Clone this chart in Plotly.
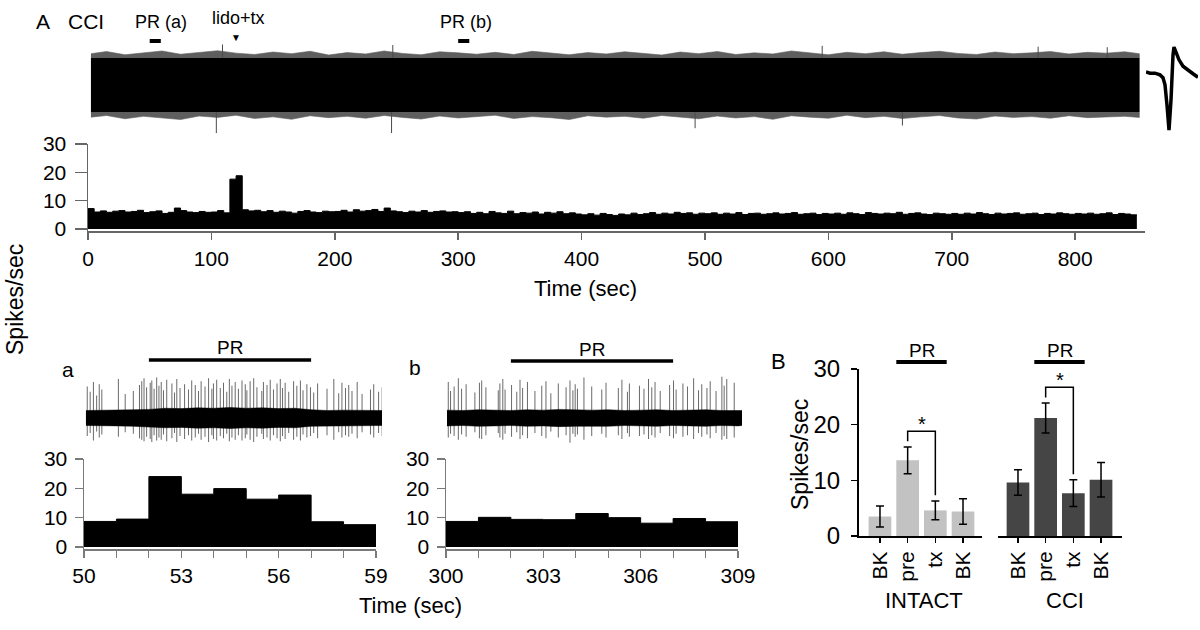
import plotly.graph_objects as go

W, H = 1200, 630
FONT = "Liberation Sans, Arial, Helvetica, sans-serif"


def fx(px):
    return px / W


def fy(py):
    return 1 - py / H


# ======================= DATA =======================
# --- Panel A (top): whole raw recording, normalised amplitude (noise band half-width = 1)
raw_t = [2.4] + list(range(15, 841, 15)) + [852]
raw_fringe_top = [1.16, 1.24, 1.12, 1.19, 1.26, 1.14, 1.21, 1.27, 1.18, 1.13,
                  1.22, 1.16, 1.25, 1.11, 1.20, 1.15, 1.26, 1.17, 1.12, 1.23,
                  1.19, 1.14, 1.21, 1.13, 1.25, 1.18, 1.12, 1.20, 1.15, 1.23,
                  1.17, 1.11, 1.22, 1.16, 1.24, 1.13, 1.19, 1.15, 1.26, 1.18,
                  1.12, 1.21, 1.16, 1.23, 1.14, 1.20, 1.25, 1.17, 1.13, 1.22,
                  1.16, 1.19, 1.24, 1.15, 1.21, 1.18, 1.23, 1.16]
raw_fringe_bot = [-1.19, -1.13, -1.25, -1.16, -1.22, -1.28, -1.15, -1.20, -1.12, -1.24,
                  -1.18, -1.27, -1.14, -1.21, -1.16, -1.23, -1.13, -1.20, -1.26, -1.15,
                  -1.22, -1.18, -1.12, -1.24, -1.17, -1.21, -1.28, -1.14, -1.19, -1.16,
                  -1.23, -1.13, -1.20, -1.25, -1.15, -1.22, -1.17, -1.27, -1.14, -1.19,
                  -1.23, -1.12, -1.21, -1.16, -1.24, -1.18, -1.13, -1.22, -1.26, -1.15,
                  -1.20, -1.17, -1.23, -1.14, -1.21, -1.18, -1.16, -1.20]
raw_core_top = 1.0
raw_core_bot = -1.0
raw_big_t = [104, 109, 246, 247, 492, 595, 660, 770, 826]
raw_big_v = [-1.78, 1.50, -1.78, 1.48, -1.60, 1.45, -1.50, 1.42, 1.40]

# averaged spike waveform (ms, uV)
wave_t = [0, 0.2, 0.45, 0.7, 0.85, 0.95, 1.05, 1.15, 1.25, 1.3, 1.35, 1.4, 1.5, 1.65, 1.85, 2.1, 2.35, 2.6]
wave_v = [0, -2, -2, -5, -10, -22, -57, -100, -48, -5, 29, 43, 34, 21, 10, 3, -3, -9]

# firing rate (5-s bins, spikes/sec)
rate_bin = 5
rate_start = list(range(0, 850, rate_bin))
rate_values = [
    7.2, 6.0, 6.4, 5.9, 6.3, 6.5, 6.0, 6.2, 6.6, 5.8, 6.1, 6.4, 5.5, 5.9, 7.4, 6.5, 6.0, 5.8, 6.2, 5.9,
    6.0, 6.5, 5.7, 17.6, 18.8, 6.8, 6.4, 6.6, 6.1, 6.5, 5.9, 6.3, 6.0, 5.6, 6.2, 6.5, 6.0, 5.8, 6.3, 6.1,
    6.2, 6.6, 6.0, 6.8, 6.3, 6.5, 6.9, 6.2, 7.4, 6.4, 6.1, 5.8, 6.3, 6.0, 6.5, 5.9, 6.2, 6.4, 6.0, 6.1,
    5.8, 6.1, 5.5, 5.9, 5.4, 6.2, 5.7, 5.5, 6.3, 5.4, 5.8, 5.6, 6.0, 5.3, 5.9, 5.6, 6.1, 5.4, 5.7, 5.3,
    5.0, 5.4, 4.9, 5.5, 5.1, 4.8, 5.3, 5.0, 5.6, 5.1, 5.4, 5.8, 5.2, 5.6, 5.3, 5.9, 5.5, 5.7, 5.2, 5.6,
    5.4, 5.7, 5.2, 5.6, 5.3, 5.8, 5.1, 5.5, 5.6, 5.2, 5.4, 5.7, 5.3, 5.5, 5.8, 5.2, 5.4, 5.6, 5.1, 5.5,
    5.3, 5.6, 5.2, 5.7, 5.4, 5.1, 5.8, 5.5, 5.3, 5.6, 5.4, 5.9, 5.2, 5.5, 5.7, 5.3, 5.1, 5.6, 5.4, 5.2,
    5.5, 5.2, 5.6, 5.3, 5.8, 5.4, 5.1, 5.6, 5.3, 5.5, 5.7, 5.2, 5.4, 5.6, 5.1, 5.5, 5.3, 5.7, 5.4, 5.2,
    5.5, 5.3, 5.6, 5.2, 5.4, 5.7, 5.1, 5.5, 5.3, 5.0]
rate_ticks = [0, 100, 200, 300, 400, 500, 600, 700, 800]
lido_time = 120
window_a = [50, 59]
window_b = [300, 309]

# --- Panel a: 50-59 s
pr_a = [52, 57]
band_a_t = [50.06, 50.5, 51.0, 51.5, 52.0, 52.5, 53.0, 53.5, 54.0, 54.5,
            55.0, 55.5, 56.0, 56.5, 57.0, 57.5, 58.0, 58.5, 59.0, 59.185]
band_a_half = [1.0, 1.0, 1.05, 1.1, 1.15, 1.3, 1.25, 1.35, 1.3, 1.4,
               1.3, 1.35, 1.25, 1.3, 1.1, 1.0, 1.05, 1.0, 1.0, 1.0]
spike_a_t = [50.10, 50.19, 50.29, 50.39, 50.47, 50.55, 51.06, 51.27, 51.52, 51.71,
             51.78, 51.85, 51.93, 52.04, 52.09, 52.16, 52.24, 52.31, 52.38, 52.45,
             52.55, 52.71, 52.79, 52.86, 52.96, 53.10, 53.22, 53.32, 53.43, 53.53,
             53.61, 53.73, 53.84, 53.94, 53.99, 54.09, 54.20, 54.30, 54.40, 54.48,
             54.56, 54.66, 54.76, 54.87, 54.97, 55.02, 55.12, 55.23, 55.33, 55.48,
             55.53, 55.64, 55.74, 55.84, 55.95, 56.05, 56.12, 56.20, 56.31, 56.46,
             56.56, 56.67, 56.75, 56.87, 56.98, 57.08, 57.20, 57.49, 57.70, 57.85,
             57.95, 58.06, 58.16, 58.26, 58.42, 58.57, 58.83, 58.93, 59.08, 59.19]
spike_a_up = [4.2, 3.5, 4.8, 3.0, 4.5, 3.8, 5.2, 3.2, 3.6, 4.4,
              4.9, 5.3, 4.1, 4.7, 5.0, 3.9, 5.4, 4.3, 4.8, 3.7,
              5.1, 4.6, 3.4, 5.2, 4.0, 4.5, 3.8, 5.0, 4.4, 3.6,
              4.9, 4.2, 5.3, 3.9, 4.6, 5.1, 4.0, 4.7, 3.5, 5.2,
              4.3, 4.8, 3.9, 5.0, 4.5, 3.7, 4.9, 5.3, 4.1, 3.6,
              4.8, 4.4, 5.1, 3.8, 4.6, 5.2, 4.0, 4.7, 3.5, 4.9,
              4.3, 5.0, 3.7, 4.5, 4.1, 3.4, 4.6, 3.9, 5.2, 3.3,
              4.7, 4.0, 4.4, 3.6, 4.8, 3.2, 3.8, 4.5, 3.5, 4.1]
spike_a_down = [-2.4, -2.0, -3.0, -1.8, -2.6, -2.2, -2.5, -1.9, -2.1, -2.7,
                -2.9, -3.1, -2.5, -2.8, -3.2, -2.3, -3.0, -2.6, -2.9, -2.2,
                -3.1, -2.7, -2.0, -3.2, -2.4, -2.8, -2.3, -3.0, -2.6, -2.1,
                -2.9, -2.5, -3.2, -2.3, -2.8, -3.0, -2.4, -2.7, -2.1, -3.1,
                -2.6, -2.9, -2.3, -3.0, -2.7, -2.2, -2.9, -3.2, -2.5, -2.1,
                -2.8, -2.6, -3.0, -2.3, -2.7, -3.1, -2.4, -2.8, -2.0, -2.9,
                -2.5, -3.0, -2.2, -2.6, -2.4, -2.0, -2.7, -2.3, -2.9, -1.9,
                -2.6, -2.3, -2.5, -2.1, -2.7, -1.9, -2.2, -2.6, -2.0, -2.4]
hist_a_start = [50, 51, 52, 53, 54, 55, 56, 57, 58]
hist_a = [8.7, 9.5, 24.0, 18.0, 19.9, 16.3, 17.7, 8.6, 7.6]
ticks_a = [50, 51, 52, 53, 54, 55, 56, 57, 58, 59]
labels_a = ["50", "", "", "53", "", "", "56", "", "", "59"]

# --- Panel b: 300-309 s
pr_b = [302, 307]
band_b_t = [300.03, 300.5, 301.0, 301.5, 302.0, 302.5, 303.0, 303.5, 304.0, 304.5,
            305.0, 305.5, 306.0, 306.5, 307.0, 307.5, 308.0, 308.5, 309.0, 309.12]
band_b_half = [1.05, 1.0, 1.1, 1.05, 1.0, 1.1, 1.05, 1.15, 1.1, 1.05,
               1.1, 1.0, 1.05, 1.1, 1.0, 1.05, 1.1, 1.0, 1.05, 1.0]
spike_b_t = [300.07, 300.14, 300.25, 300.38, 300.48, 300.62, 300.89, 301.03, 301.10, 301.23,
             301.61, 301.66, 301.75, 301.82, 302.02, 302.18, 302.28, 302.36, 302.51, 302.74,
             302.95, 303.08, 303.23, 303.46, 303.70, 303.82, 303.91, 303.98, 304.05, 304.25,
             304.49, 304.80, 304.93, 305.31, 305.42, 305.59, 305.65, 305.96, 306.10, 306.24,
             306.34, 306.44, 306.60, 306.89, 307.01, 307.09, 307.30, 307.44, 307.63, 307.78,
             307.88, 308.04, 308.14, 308.32, 308.50, 308.57, 308.65, 308.88]
spike_b_up = [4.8, 3.6, 4.2, 5.3, 3.9, 4.5, 3.4, 4.7, 5.0, 4.1,
              3.7, 4.6, 5.2, 3.8, 4.4, 3.5, 5.1, 4.0, 4.8, 3.6,
              4.3, 4.9, 3.3, 4.6, 4.1, 5.0, 3.7, 4.5, 3.9, 5.4,
              4.2, 3.8, 4.7, 4.0, 5.1, 3.5, 4.6, 4.3, 3.9, 5.2,
              4.1, 4.8, 3.6, 4.4, 5.0, 3.8, 4.6, 4.2, 5.3, 3.7,
              4.5, 4.0, 4.9, 3.6, 5.5, 4.3, 5.2, 4.7]
spike_b_down = [-2.6, -2.1, -2.4, -2.9, -2.2, -2.5, -1.9, -2.7, -2.8, -2.3,
                -2.0, -2.6, -2.9, -2.1, -2.5, -1.9, -2.8, -2.3, -2.7, -2.0,
                -2.4, -2.7, -1.8, -2.6, -2.3, -3.3, -2.1, -2.5, -2.2, -2.9,
                -2.4, -2.1, -2.6, -2.3, -2.8, -2.0, -2.5, -2.4, -2.2, -2.8,
                -2.3, -2.6, -2.0, -2.4, -2.7, -2.1, -2.5, -2.3, -2.8, -2.0,
                -2.5, -2.2, -2.7, -2.0, -2.9, -2.4, -2.8, -2.6]
hist_b_start = [300, 301, 302, 303, 304, 305, 306, 307, 308]
hist_b = [8.7, 10.1, 9.4, 9.3, 11.4, 10.0, 8.1, 9.7, 8.6]
ticks_b = [300, 301, 302, 303, 304, 305, 306, 307, 308, 309]
labels_b = ["300", "", "", "303", "", "", "306", "", "", "309"]

# --- Panel B: group means +/- SEM
conditions = ["BK", "pre", "tx", "BK"]
intact_mean = [3.5, 13.6, 4.6, 4.4]
intact_err = [1.9, 2.4, 1.7, 2.3]
cci_mean = [9.6, 21.2, 7.7, 10.1]
cci_err = [2.3, 2.7, 2.4, 3.1]

# ======================= FIGURE =======================
fig = go.Figure()
BLACK = "#000000"


def add(tr):
    fig.add_trace(tr)


def spikes_xy(ts, ups, downs):
    xs, ys = [], []
    for t, u, d in zip(ts, ups, downs):
        xs += [t, t, None]
        ys += [d, u, None]
    return xs, ys


# ---- top raw trace
add(go.Scatter(x=raw_t + raw_t[::-1], y=raw_fringe_top + raw_fringe_bot[::-1],
               fill="toself", fillcolor="#5e5e5e", mode="lines", line=dict(width=0.6, color="#5e5e5e"),
               xaxis="x", yaxis="y", hoverinfo="skip"))
bx, by = [], []
for t, v in zip(raw_big_t, raw_big_v):
    bx += [t, t, None]
    by += [0, v, None]
add(go.Scatter(x=bx, y=by, mode="lines", line=dict(color="#4a4a4a", width=1), xaxis="x", yaxis="y"))
add(go.Scatter(x=[raw_t[0], raw_t[-1], raw_t[-1], raw_t[0]],
               y=[raw_core_top, raw_core_top, raw_core_bot, raw_core_bot],
               fill="toself", fillcolor=BLACK, mode="lines", line=dict(width=0, color=BLACK),
               xaxis="x", yaxis="y"))

# ---- waveform
add(go.Scatter(x=wave_t, y=wave_v, mode="lines", line=dict(color=BLACK, width=3.5),
               xaxis="x3", yaxis="y3"))

# ---- rate histogram
rx = rate_start + [rate_start[-1] + rate_bin]
ry = rate_values + [rate_values[-1]]
add(go.Scatter(x=rx, y=ry, mode="lines", line=dict(shape="hv", color=BLACK, width=1),
               fill="tozeroy", fillcolor=BLACK, xaxis="x2", yaxis="y2"))

# ---- panel a raw + hist
sx, sy = spikes_xy(spike_a_t, spike_a_up, spike_a_down)
add(go.Scatter(x=sx, y=sy, mode="lines", line=dict(color="#6a6a6a", width=1), xaxis="x4", yaxis="y4"))
add(go.Scatter(x=band_a_t + band_a_t[::-1], y=band_a_half + [-h for h in band_a_half[::-1]],
               fill="toself", fillcolor=BLACK, mode="lines", line=dict(width=0.5, color=BLACK),
               xaxis="x4", yaxis="y4"))
add(go.Scatter(x=hist_a_start + [hist_a_start[-1] + 1], y=hist_a + [hist_a[-1]], mode="lines",
               line=dict(shape="hv", color=BLACK, width=1), fill="tozeroy", fillcolor=BLACK,
               xaxis="x5", yaxis="y5"))

# ---- panel b raw + hist
sx, sy = spikes_xy(spike_b_t, spike_b_up, spike_b_down)
add(go.Scatter(x=sx, y=sy, mode="lines", line=dict(color="#6a6a6a", width=1), xaxis="x6", yaxis="y6"))
add(go.Scatter(x=band_b_t + band_b_t[::-1], y=band_b_half + [-h for h in band_b_half[::-1]],
               fill="toself", fillcolor=BLACK, mode="lines", line=dict(width=0.5, color=BLACK),
               xaxis="x6", yaxis="y6"))
add(go.Scatter(x=hist_b_start + [hist_b_start[-1] + 1], y=hist_b + [hist_b[-1]], mode="lines",
               line=dict(shape="hv", color=BLACK, width=1), fill="tozeroy", fillcolor=BLACK,
               xaxis="x7", yaxis="y7"))

# ---- panel B bars
BAR_W = 0.82
pos = list(range(len(conditions)))
add(go.Bar(x=pos, y=intact_mean, width=BAR_W, marker=dict(color="#c2c2c2", line=dict(width=0)),
           error_y=dict(type="data", array=intact_err, color=BLACK, thickness=1.5, width=4),
           xaxis="x8", yaxis="y8"))
add(go.Bar(x=pos, y=cci_mean, width=BAR_W, marker=dict(color="#454545", line=dict(width=0)),
           error_y=dict(type="data", array=cci_err, color=BLACK, thickness=1.5, width=4),
           xaxis="x9", yaxis="y9"))

# ======================= LAYOUT =======================
hidden = dict(visible=False, showgrid=False, zeroline=False, fixedrange=True, automargin=False)


def dx(a, b):
    return [fx(a), fx(b)]


def dy(top, bot):
    return [fy(bot), fy(top)]


GRAY = "#666666"
lay = dict(
    template="none",
    width=W, height=H, margin=dict(l=0, r=0, t=0, b=0, pad=0, autoexpand=False),
    paper_bgcolor="white", plot_bgcolor="white", showlegend=False,
    font=dict(family=FONT, color=BLACK, size=20),
)
lay["xaxis"] = dict(hidden, domain=dx(88, 1145), range=[0, 856.6], anchor="y")
lay["yaxis"] = dict(hidden, domain=dy(30, 135), range=[-1.852, 2.037], anchor="x")

lay["xaxis2"] = dict(domain=dx(88, 1145), range=[0, 856.6], anchor="y2", showline=True,
                     linecolor=GRAY, linewidth=1.5, ticks="outside", ticklen=7, tickwidth=1.5,
                     tickcolor=GRAY, tickmode="array", tickvals=rate_ticks,
                     tickfont=dict(size=21), ticklabelstandoff=1, showgrid=False, zeroline=False,
                     automargin=False)
lay["yaxis2"] = dict(domain=dy(144, 231), range=[-0.7, 30], anchor="x2", showline=True,
                     linecolor=GRAY, linewidth=1.5, ticks="outside", ticklen=12, tickwidth=1.5,
                     tickcolor=GRAY, tickmode="array", tickvals=[0, 10, 20, 30],
                     tickfont=dict(size=21), ticklabelstandoff=4, showgrid=False, zeroline=False,
                     automargin=False)

lay["xaxis3"] = dict(hidden, domain=dx(1146, 1198), range=[0, 2.6], anchor="y3")
lay["yaxis3"] = dict(hidden, domain=dy(30, 135), range=[-108.6, 72.4], anchor="x3")

trace_y = dict(hidden, domain=dy(372, 446), range=[-3.73, 6.13])
hist_x_style = dict(showline=True, linecolor="#7a7a7a", linewidth=1.5, ticks="outside", ticklen=7,
                    tickwidth=1.2, tickcolor="#7a7a7a", tickmode="array", tickfont=dict(size=21),
                    showgrid=False, zeroline=False, automargin=False)
hist_y_style = dict(domain=dy(459, 549), range=[-0.7, 30], showline=True, linecolor="#7a7a7a",
                    linewidth=1.5, ticks="outside", ticklen=8, tickwidth=1.2, tickcolor="#7a7a7a",
                    tickmode="array", tickvals=[0, 10, 20, 30], tickfont=dict(size=21),
                    ticklabelstandoff=3, showgrid=False, zeroline=False, automargin=False)

lay["xaxis4"] = dict(hidden, domain=dx(84, 382), range=[50, 59.185], anchor="y4")
lay["yaxis4"] = dict(trace_y, anchor="x4")
lay["xaxis5"] = dict(hist_x_style, domain=dx(84, 376), range=window_a, anchor="y5",
                     tickvals=ticks_a, ticktext=labels_a)
lay["yaxis5"] = dict(hist_y_style, anchor="x5")

lay["xaxis6"] = dict(hidden, domain=dx(446, 742), range=[300, 309.12], anchor="y6")
lay["yaxis6"] = dict(trace_y, anchor="x6")
lay["xaxis7"] = dict(hist_x_style, domain=dx(446, 738), range=window_b, anchor="y7",
                     tickvals=ticks_b, ticktext=labels_b)
lay["yaxis7"] = dict(hist_y_style, anchor="x7")

bar_x_style = dict(showline=True, linecolor=BLACK, linewidth=2, ticks="outside", ticklen=5,
                   tickwidth=1.5, tickcolor=BLACK, tickmode="array", tickvals=pos,
                   ticktext=conditions, tickangle=-90, tickfont=dict(size=21),
                   showgrid=False, zeroline=False, automargin=False)
lay["xaxis8"] = dict(bar_x_style, domain=dx(859, 982), range=[-0.758, 3.686], anchor="y8")
lay["yaxis8"] = dict(domain=dy(369, 536), range=[0, 30], anchor="x8", showline=True,
                     linecolor=BLACK, linewidth=2, ticks="outside", ticklen=6, tickwidth=1.5,
                     tickcolor=BLACK, tickmode="array", tickvals=[0, 10, 20, 30],
                     tickfont=dict(size=24), ticklabelstandoff=6, showgrid=False, zeroline=False,
                     automargin=False)
lay["xaxis9"] = dict(bar_x_style, domain=dx(998, 1122), range=[-0.722, 3.758], anchor="y9")
lay["yaxis9"] = dict(hidden, domain=dy(369, 536), range=[0, 30], anchor="x9")

fig.update_layout(**lay)

# ======================= ANNOTATIONS & SHAPES =======================
ann = []


def txt(text, x, y, size=20, xref="paper", yref="paper", angle=0, xanchor="center", yanchor="middle"):
    ann.append(dict(text=text, x=x, y=y, xref=xref, yref=yref, showarrow=False,
                    font=dict(size=size, family=FONT, color=BLACK), textangle=angle,
                    xanchor=xanchor, yanchor=yanchor))


txt("A", fx(43), fy(22), 21)
txt("CCI", fx(86), fy(22), 21)
txt("PR (a)", fx(161), fy(22), 18)
txt("lido+tx", fx(238), fy(18), 18)
txt("▼", lido_time, fy(37), 10, xref="x")
txt("PR (b)", fx(466), fy(22), 18)
txt("Spikes/sec", fx(15), fy(300), 23, angle=-90)
txt("Time (sec)", fx(585), fy(289), 22)
txt("a", fx(68), fy(369), 21)
txt("b", fx(415), fy(367), 21)
txt("PR", sum(pr_a) / 2, fy(347), 19, xref="x5")
txt("PR", sum(pr_b) / 2, fy(349), 19, xref="x7")
txt("Time (sec)", fx(410), fy(605), 22)
txt("B", fx(778), fy(361), 22)
txt("Spikes/sec", fx(800), fy(455), 23, angle=-90)
txt("INTACT", fx(924), fy(600), 22)
txt("CCI", fx(1065), fy(600), 22)

shapes = []


def hline(x0, x1, y, xref, width=4):
    shapes.append(dict(type="line", x0=x0, x1=x1, y0=y, y1=y, xref=xref, yref="paper",
                       line=dict(color=BLACK, width=width)))


hline(window_a[0], window_a[1], fy(41), "x", 4)
hline(window_b[0], window_b[1], fy(41), "x", 4)
hline(pr_a[0], pr_a[1], fy(360), "x5", 3.5)
hline(pr_b[0], pr_b[1], fy(361), "x7", 3.5)

# PR bars and significance brackets in panel B (pre vs tx)
for xr, yr, means, errs in (("x8", "y8", intact_mean, intact_err), ("x9", "y9", cci_mean, cci_err)):
    i_pre, i_tx = 1, 2
    hline(i_pre - BAR_W / 2, i_tx + BAR_W / 2, fy(362), xr, 4)
    txt("PR", (i_pre + i_tx) / 2, fy(350), 19, xref=xr)
    pre_top = means[i_pre] + errs[i_pre]
    tx_top = means[i_tx] + errs[i_tx]
    top = pre_top + 2.8
    shapes.append(dict(type="path", xref=xr, yref=yr,
                       path=f"M {i_pre},{pre_top + 1.0} L {i_pre},{top} L {i_tx},{top} L {i_tx},{tx_top + 1.0}",
                       line=dict(color=BLACK, width=1.5)))
    ann.append(dict(text="*", x=(i_pre + i_tx) / 2, y=top, xref=xr, yref=yr, showarrow=False,
                    font=dict(size=20, family=FONT, color=BLACK), yanchor="bottom", yshift=-6))

fig.update_layout(annotations=ann, shapes=shapes)
fig.write_html(
    "out.html",
    config={"displayModeBar": False, "staticPlot": True},
    post_script="document.body.style.margin='0px';document.body.style.overflow='hidden';",
)
